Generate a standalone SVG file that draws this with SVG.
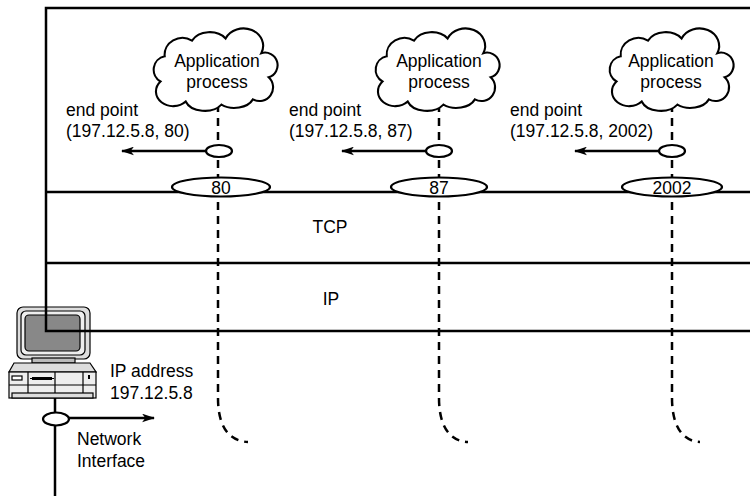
<svg xmlns="http://www.w3.org/2000/svg" width="750" height="496" viewBox="0 0 750 496">
  <style>
    text { font-family: "Liberation Sans", Arial, sans-serif; font-size: 17.5px; fill: #000; }
    .mid { text-anchor: middle; }
    .ln { fill: none; stroke: #000; stroke-width: 2.5; }
    .dash { fill: none; stroke: #000; stroke-width: 2.5; stroke-dasharray: 8 6; }
    .ell { fill: #fff; stroke: #000; stroke-width: 2.2; }
    .cloud { fill: #fff; stroke: #000; stroke-width: 2; }
    .pc { stroke: #000; stroke-width: 1.2; }
  </style>
  <defs>
    <marker id="arrow" viewBox="0 0 12 8" refX="11" refY="4" markerWidth="13" markerHeight="9" markerUnits="userSpaceOnUse" orient="auto">
      <path d="M0,0 L12,4 L0,8 L3,4 Z" fill="#000"/>
    </marker>
    <path id="cloudShape" d="M-50,10 A13,13 0 0 1 -46,-14 A17,16 0 0 1 -20,-29 A19,15 0 0 1 12,-31 A17,15 0 0 1 46,-17 A12,12 0 0 1 53,6 A13,13 0 0 1 38,27 A19,13 0 0 1 8,32 A19,13 0 0 1 -26,29 A14,12 0 0 1 -50,10 Z"/>
  </defs>

  <!-- host computer -->
  <g id="computer">
    <rect x="17" y="307" width="73" height="52" rx="6" fill="#ddd" class="pc"/>
    <rect x="21" y="311" width="64" height="44" rx="5" fill="#eee" class="pc"/>
    <rect x="25" y="315" width="55" height="36" rx="4" fill="#888" class="pc"/>
    <rect x="32" y="358" width="43" height="5" fill="#bbb" class="pc"/>
    <path d="M14,363 L90,363 L96,372 L9,372 Z" fill="#ddd" class="pc"/>
    <rect x="9" y="372" width="87" height="26" fill="#eee" class="pc"/>
    <line x1="9" y1="385" x2="96" y2="385" class="pc"/>
    <line x1="28" y1="372" x2="28" y2="393" class="pc"/>
    <line x1="55" y1="372" x2="55" y2="393" class="pc"/>
    <line x1="83" y1="372" x2="83" y2="393" class="pc"/>
    <rect x="12" y="393" width="81" height="5" fill="#ddd" class="pc"/>
    <rect x="12" y="376" width="10" height="4" fill="#fff" class="pc"/>
    <rect x="32" y="377" width="20" height="3" fill="#000"/>
    <line x1="30" y1="378.5" x2="54" y2="378.5" stroke="#000" stroke-width="1"/>
    <rect x="88" y="375" width="2" height="4" fill="#000"/>
  </g>

  <!-- protocol stack frame -->
  <g id="stack">
    <rect x="46" y="8" width="720" height="323" fill="#fff" class="ln"/>
    <line x1="46" y1="192" x2="750" y2="192" class="ln"/>
    <line x1="46" y1="263" x2="750" y2="263" class="ln"/>
    <text x="330" y="233" class="mid">TCP</text>
    <text x="331" y="305" class="mid">IP</text>
  </g>

  <!-- connectors -->
  <g id="connectors">
    <path d="M218,104 V398 C218,424 227,441 248,442" class="dash"/>
    <path d="M439,104 V398 C439,424 448,441 468,442" class="dash"/>
    <path d="M672,104 V398 C672,424 681,441 700,442" class="dash"/>
    <line x1="206" y1="151" x2="122" y2="151" class="ln" stroke-width="2.2" marker-end="url(#arrow)"/>
    <line x1="426" y1="151" x2="342" y2="151" class="ln" stroke-width="2.2" marker-end="url(#arrow)"/>
    <line x1="659" y1="151" x2="575" y2="151" class="ln" stroke-width="2.2" marker-end="url(#arrow)"/>
    <line x1="55" y1="398" x2="55" y2="496" class="ln"/>
    <line x1="69" y1="418" x2="154" y2="418" class="ln" stroke-width="2.2" marker-end="url(#arrow)"/>
  </g>

  <!-- application process 1 -->
  <g id="app80">
    <use href="#cloudShape" transform="translate(213,71) scale(1.05)" class="cloud"/>
    <text x="217" y="67" class="mid">Application</text>
    <text x="217" y="88" class="mid">process</text>
    <ellipse cx="219" cy="151" rx="13" ry="6" class="ell"/>
    <ellipse cx="221" cy="187" rx="49" ry="9.5" class="ell"/>
    <text x="221" y="194" class="mid">80</text>
    <text x="66" y="116">end point</text>
    <text x="66" y="137">(197.12.5.8, 80)</text>
  </g>

  <!-- application process 2 -->
  <g id="app87">
    <use href="#cloudShape" transform="translate(435,71) scale(1.05)" class="cloud"/>
    <text x="439" y="67" class="mid">Application</text>
    <text x="439" y="88" class="mid">process</text>
    <ellipse cx="439" cy="151" rx="13" ry="6" class="ell"/>
    <ellipse cx="439" cy="187" rx="48" ry="9.5" class="ell"/>
    <text x="439" y="194" class="mid">87</text>
    <text x="289" y="116">end point</text>
    <text x="289" y="137">(197.12.5.8, 87)</text>
  </g>

  <!-- application process 3 -->
  <g id="app2002">
    <use href="#cloudShape" transform="translate(669,71) scale(1.05)" class="cloud"/>
    <text x="671" y="67" class="mid">Application</text>
    <text x="671" y="88" class="mid">process</text>
    <ellipse cx="672" cy="151" rx="13" ry="6" class="ell"/>
    <ellipse cx="672" cy="187" rx="50" ry="9.5" class="ell"/>
    <text x="672" y="194" class="mid">2002</text>
    <text x="510" y="116">end point</text>
    <text x="510" y="137">(197.12.5.8, 2002)</text>
  </g>

  <!-- network interface -->
  <g id="netif">
    <ellipse cx="56" cy="419" rx="13" ry="6.5" class="ell"/>
    <text x="110" y="377">IP address</text>
    <text x="110" y="399">197.12.5.8</text>
    <text x="77" y="445">Network</text>
    <text x="77" y="467">Interface</text>
  </g>
</svg>
